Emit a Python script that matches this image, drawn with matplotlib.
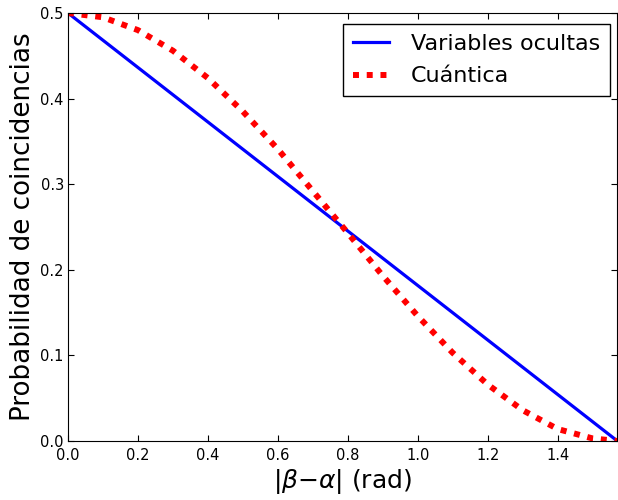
import matplotlib
matplotlib.use("Agg")
import matplotlib.pyplot as plt

# values
angle_hidden = [0.0, 1.5708]
prob_hidden = [0.5, 0.0]

angle_quantum = [0.0, 0.1, 0.2, 0.3, 0.4, 0.5, 0.6, 0.7, 0.8, 0.9,
                 1.0, 1.1, 1.2, 1.3, 1.4, 1.5, 1.5708]
prob_quantum = [0.500, 0.495, 0.480, 0.456, 0.424, 0.385, 0.341, 0.292, 0.243, 0.193,
                0.146, 0.103, 0.066, 0.036, 0.014, 0.003, 0.0]

x_ticks = [0.0, 0.2, 0.4, 0.6, 0.8, 1.0, 1.2, 1.4]
y_ticks = [0.0, 0.1, 0.2, 0.3, 0.4, 0.5]

fig = plt.figure(figsize=(6.18, 5.0), dpi=100)
ax = fig.add_axes([0.110, 0.118, 0.889, 0.856])

ax.plot(angle_hidden, prob_hidden, color='blue', linewidth=2.3, label='Variables ocultas')
ax.plot(angle_quantum, prob_quantum, color='red', linewidth=4.3, linestyle=(0, (1, 1.3)),
        label='Cuántica')

ax.set_xlim(0, 1.5708)
ax.set_ylim(0, 0.5)
ax.set_xticks(x_ticks)
ax.set_yticks(y_ticks)
ax.set_xticklabels([f"{t:.1f}" for t in x_ticks])
ax.set_yticklabels([f"{t:.1f}" for t in y_ticks])
ax.tick_params(direction='in', top=True, right=True, length=4, labelsize=10.5)
ax.tick_params(axis='x', pad=5)
ax.tick_params(axis='y', pad=3)

ax.set_xlabel(r'$|\beta{-}\alpha|$ (rad)', fontsize=18, labelpad=3)
ax.set_ylabel('Probabilidad de coincidencias', fontsize=18.8, labelpad=3)

leg = ax.legend(loc='upper right', fontsize=16, fancybox=False, framealpha=1,
                handlelength=1.6, borderpad=0.45, handletextpad=1.0, labelspacing=0.55,
                borderaxespad=0, bbox_to_anchor=(0.987, 0.974))
leg.get_frame().set_edgecolor('black')

fig.savefig("out.png", dpi=100)
